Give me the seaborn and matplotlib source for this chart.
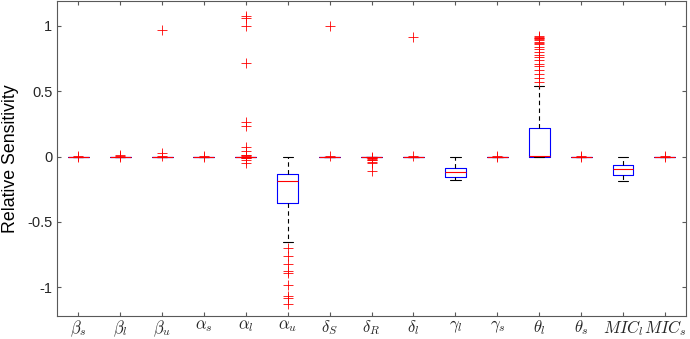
import matplotlib
matplotlib.use("Agg")
import matplotlib.pyplot as plt
import pandas as pd
import seaborn as sns

# parameter names (x categories)
params = [r'$\beta_s$', r'$\beta_l$', r'$\beta_u$', r'$\alpha_s$', r'$\alpha_l$',
          r'$\alpha_u$', r'$\delta_S$', r'$\delta_R$', r'$\delta_l$', r'$\gamma_l$',
          r'$\gamma_s$', r'$\theta_l$', r'$\theta_s$', r'$MIC_l$', r'$MIC_s$']

beta_s = [0.0] * 20 + [0.002, -0.002]
beta_l = [0.0] * 20 + [0.012, 0.006, -0.003]
beta_u = [0.0] * 20 + [0.965, 0.03, 0.004]
alpha_s = [0.0] * 20 + [0.003, -0.002]
alpha_l = [0.0] * 40 + [1.075, 1.06, 0.995, 0.718, 0.262, 0.231, 0.07, 0.04,
                        0.015, 0.01, 0.005, -0.005, -0.01, -0.015, -0.03, -0.05]
alpha_u = [-1.125, -1.08, -1.07, -0.98, -0.89, -0.878, -0.82, -0.761, -0.697, -0.654,
           -0.356, -0.34, -0.32, -0.30, -0.28, -0.26, -0.24, -0.22, -0.21, -0.20,
           -0.19, -0.185, -0.18, -0.175, -0.17, -0.165, -0.16, -0.15, -0.145, -0.14,
           -0.133, -0.12, -0.11, -0.10, -0.09, -0.07, -0.05, -0.04, -0.02, -0.01, 0.0]
delta_S = [0.0] * 20 + [1.0, 0.003]
delta_R = [0.0] * 30 + [-0.005, -0.01, -0.015, -0.02, -0.025, -0.03, -0.04, -0.05, -0.107]
delta_l = [0.0] * 20 + [0.918, 0.003]
gamma_l = [-0.176, -0.17, -0.165, -0.16, -0.157, -0.153, -0.145, -0.135, -0.125, -0.12,
           -0.115, -0.11, -0.105, -0.10, -0.095, -0.088, -0.07, -0.05, -0.03, -0.01, 0.0]
gamma_s = [0.0] * 20 + [0.003, -0.002]
theta_l = ([0.0] * 50 + [0.004]
           + [0.01, 0.02, 0.03, 0.04, 0.05, 0.06, 0.07, 0.08, 0.09, 0.10, 0.11, 0.12,
              0.13, 0.14, 0.15, 0.16, 0.17, 0.18, 0.19, 0.20, 0.205, 0.21, 0.212, 0.215]
           + [0.22, 0.30, 0.38, 0.46, 0.54]
           + [0.567, 0.60, 0.63, 0.66, 0.69, 0.71, 0.74, 0.76, 0.78, 0.80, 0.82,
              0.84, 0.86, 0.87, 0.88, 0.89, 0.90, 0.905, 0.91, 0.915, 0.92])
theta_s = [0.0] * 20 + [0.003, -0.002]
mic_l = [-0.19, -0.18, -0.17, -0.16, -0.15, -0.14, -0.13, -0.12, -0.11, -0.105,
         -0.097, -0.09, -0.085, -0.08, -0.07, -0.064, -0.05, -0.04, -0.03, -0.015, 0.0]
mic_s = [0.0] * 20 + [0.003, -0.002]

series = [beta_s, beta_l, beta_u, alpha_s, alpha_l, alpha_u, delta_S, delta_R,
          delta_l, gamma_l, gamma_s, theta_l, theta_s, mic_l, mic_s]

df = pd.concat([pd.DataFrame({'param': name, 'value': vals})
                for name, vals in zip(params, series)], ignore_index=True)

sns.set_style('ticks')
plt.rcParams['font.family'] = ['Liberation Sans', 'DejaVu Sans']
plt.rcParams['mathtext.fontset'] = 'cm'
plt.rcParams['axes.unicode_minus'] = False

fig, ax = plt.subplots(figsize=(6.9, 3.39), dpi=100)
fig.subplots_adjust(left=0.083, right=0.994, bottom=0.068, top=0.997)

sns.boxplot(
    data=df, x='param', y='value', order=params,
    width=0.5, fill=False, whis=1.5, linewidth=0.8, fliersize=6.5,
    color='#0000FF', ax=ax,
)

# MATLAB-like styling of the box parts
for ln in ax.lines:
    xs = ln.get_xdata()
    if ln.get_marker() not in (None, 'None', '', ' '):
        ln.set_marker('+')
        ln.set_markeredgecolor('#FF0000')
        ln.set_markeredgewidth(0.6)
        ln.set_zorder(4)
    elif len(xs) > 2:
        ln.set_color('#0000FF')
        ln.set_zorder(2)
    elif xs[0] == xs[1]:
        ln.set_color('black')
        ln.set_linestyle((0, (4, 3)))
        ln.set_zorder(2)
    elif abs(xs[1] - xs[0]) > 0.4:
        ln.set_color('#FF0000')
        ln.set_zorder(3)
    else:
        ln.set_color('black')
        ln.set_zorder(2)

ax.set_xlim(-0.5, 14.5)
ax.set_ylim(-1.22, 1.19)
ax.set_yticks([-1, -0.5, 0, 0.5, 1])
ax.set_yticklabels(['-1', '-0.5', '0', '0.5', '1'])
ax.set_xlabel('')
ax.set_ylabel('Relative Sensitivity', fontsize=12.8, color='black', labelpad=6)
ax.tick_params(axis='y', labelsize=10.5, colors='#262626')
ax.tick_params(axis='x', labelsize=12, colors='#262626', pad=1.5)
ax.tick_params(direction='in', top=True, right=True, length=3, width=0.8,
               color='0.35')
for s in ax.spines.values():
    s.set_visible(True)
    s.set_color('0.35')
    s.set_linewidth(0.8)

fig.savefig('out.png', dpi=100)
